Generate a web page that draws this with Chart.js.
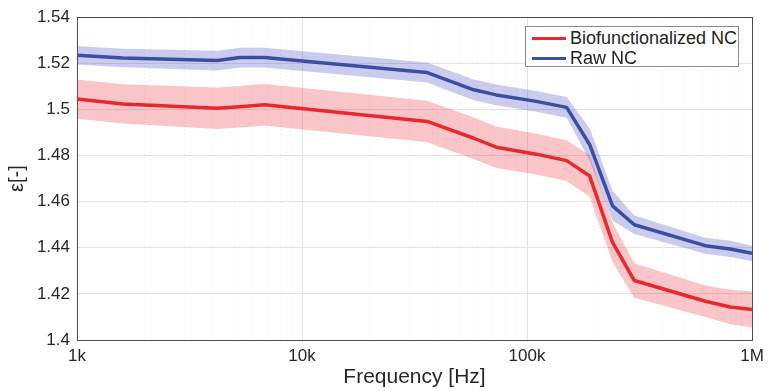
<!DOCTYPE html>
<html>
<head>
<meta charset="utf-8">
<script src="https://cdn.jsdelivr.net/npm/chart.js@4.4.1/dist/chart.umd.min.js"></script>
<style>
  html, body { margin: 0; padding: 0; background: #fff; }
  #wrap { position: relative; width: 779px; height: 391px; font-family: "Liberation Sans", Arial, sans-serif; }
  #legend { position: absolute; left: 525px; top: 26px; width: 214px; height: 41px; border: 1px solid #8a8a8a; background: #fff; box-sizing: border-box; }
  .row { position: absolute; left: 0; height: 20px; font-size: 18px; color: #222; line-height: 20px; white-space: nowrap; }
  .swatch { position: absolute; left: 6px; top: 9px; width: 34px; height: 3px; }
  .txt { position: absolute; left: 44px; top: 0; }
</style>
</head>
<body>
<div id="wrap">
  <canvas id="chart" width="779" height="391"></canvas>
  <div id="legend"></div>
</div>
<script>
// frequency points [Hz] and permittivity
const freqHz = [1000, 1600, 4200, 5300, 6800, 36000, 58000, 73000, 110000, 150000, 190000, 240000, 300000, 620000, 800000, 1000000];

const bioNC   = [1.5045, 1.5024, 1.5005, 1.5012, 1.5020, 1.4948, 1.4875, 1.4836, 1.4806, 1.4778, 1.4711, 1.4423, 1.4258, 1.4168, 1.4143, 1.4132];
const bioNCsd = [0.0085, 0.0085, 0.0090, 0.0090, 0.0090, 0.0090, 0.0090, 0.0090, 0.0088, 0.0088, 0.0090, 0.0085, 0.0075, 0.0068, 0.0075, 0.0078];

const rawNC   = [1.5235, 1.5223, 1.5212, 1.5225, 1.5225, 1.5160, 1.5085, 1.5063, 1.5035, 1.5009, 1.4847, 1.4582, 1.4500, 1.4409, 1.4395, 1.4376];
const rawNCsd = [0.0040, 0.0040, 0.0043, 0.0043, 0.0043, 0.0043, 0.0045, 0.0045, 0.0045, 0.0045, 0.0070, 0.0065, 0.0040, 0.0035, 0.0035, 0.0033];

const seriesNames = ["Biofunctionalized NC", "Raw NC"];
const lineColors = ["#e8292c", "#3a4fa3"];
const bandColors = ["rgba(235,40,50,0.27)", "rgba(70,70,190,0.28)"];

const xTickValues = [1000, 10000, 100000, 1000000];
const xTickLabels = ["1k", "10k", "100k", "1M"];
const yTickValues = [1.4, 1.42, 1.44, 1.46, 1.48, 1.5, 1.52, 1.54];
const yTickLabels = ["1.4", "1.42", "1.44", "1.46", "1.48", "1.5", "1.52", "1.54"];

function pts(vals) {
  return freqHz.map((f, i) => ({ x: f, y: vals[i] }));
}

function band(vals, sd, sign) {
  return pts(vals.map((v, i) => v + sign * sd[i]));
}

// minor decade positions for the dotted grid
var minorTicks = [];
for (let d = 1000; d < 1000000; d *= 10) {
  for (let k = 2; k <= 9; k++) minorTicks.push(d * k);
}

const FONT = "'Liberation Sans', Arial, sans-serif";
const TXT = "#262626";
const AXIS = "#4d4d4d";

function bandSets(vals, sd, color) {
  return [
    { data: band(vals, sd, 1), borderWidth: 0, pointRadius: 0, fill: false, order: 2, backgroundColor: color },
    { data: band(vals, sd, -1), borderWidth: 0, pointRadius: 0, fill: "-1", order: 2, backgroundColor: color }
  ];
}

const datasets = [].concat(
  bandSets(bioNC, bioNCsd, bandColors[0]),
  bandSets(rawNC, rawNCsd, bandColors[1]),
  [
    { label: seriesNames[0], data: pts(bioNC), borderColor: lineColors[0], borderWidth: 3.5, pointRadius: 0, fill: false, order: 1 },
    { label: seriesNames[1], data: pts(rawNC), borderColor: lineColors[1], borderWidth: 3.5, pointRadius: 0, fill: false, order: 1 }
  ]
);

new Chart(document.getElementById("chart"), {
  type: "line",
  data: { datasets: datasets },
  options: {
    responsive: false,
    animation: false,
    devicePixelRatio: 1,
    layout: { padding: 0 },
    elements: { line: { tension: 0, borderCapStyle: "butt", borderJoinStyle: "round" } },
    plugins: { legend: { display: false }, tooltip: { enabled: false } },
    scales: {
      x: {
        type: "logarithmic",
        position: "bottom",
        min: 1000,
        max: 1000000,
        afterBuildTicks: (s) => { s.ticks = xTickValues.map(v => ({ value: v })); },
        afterFit: (s) => { s.height = 51; },
        ticks: {
          autoSkip: false,
          maxRotation: 0,
          padding: 6,
          color: TXT,
          font: { family: FONT, size: 17 },
          callback: (v, i) => xTickLabels[i]
        },
        grid: { color: "#e3e3e3", lineWidth: 1, drawTicks: false },
        border: { display: true, color: AXIS, width: 1 },
        title: { display: true, text: "Frequency [Hz]", color: TXT, font: { family: FONT, size: 21 }, padding: { top: 0, bottom: 1 } }
      },
      xMinor: {
        type: "logarithmic",
        position: "top",
        min: 1000,
        max: 1000000,
        afterBuildTicks: (s) => { s.ticks = minorTicks.map(v => ({ value: v })); },
        afterFit: (s) => { s.height = 15; },
        ticks: { display: false },
        grid: { color: "#e6e6e6", lineWidth: 1, drawTicks: false },
        border: { display: true, color: AXIS, width: 1, dash: [1, 3] }
      },
      y: {
        type: "linear",
        position: "left",
        min: 1.4,
        max: 1.54,
        afterBuildTicks: (s) => { s.ticks = yTickValues.map(v => ({ value: v })); },
        afterFit: (s) => { s.width = 77; },
        ticks: {
          padding: 7,
          color: TXT,
          font: { family: FONT, size: 17 },
          callback: (v, i) => yTickLabels[i]
        },
        grid: { color: "#e3e3e3", lineWidth: 1, drawTicks: false },
        border: { display: true, color: AXIS, width: 1 },
        title: { display: true, text: "ε[-]", color: TXT, font: { family: FONT, size: 20 }, padding: { top: 5, bottom: 0 } }
      },
      yRight: {
        type: "linear",
        position: "right",
        min: 1.4,
        max: 1.54,
        afterFit: (s) => { s.width = 27; },
        ticks: { display: false },
        grid: { display: false, drawTicks: false },
        border: { display: true, color: AXIS, width: 1 }
      }
    }
  }
});

// legend box drawn inside the plot, as in the figure
const legend = document.getElementById("legend");
seriesNames.forEach((name, i) => {
  const row = document.createElement("div");
  row.className = "row";
  row.style.top = (1 + i * 20) + "px";
  row.style.width = "100%";
  row.innerHTML = '<span class="swatch" style="background:' + lineColors[i] + '"></span><span class="txt"></span>';
  row.querySelector(".txt").textContent = name;
  legend.appendChild(row);
});
</script>
</body>
</html>
